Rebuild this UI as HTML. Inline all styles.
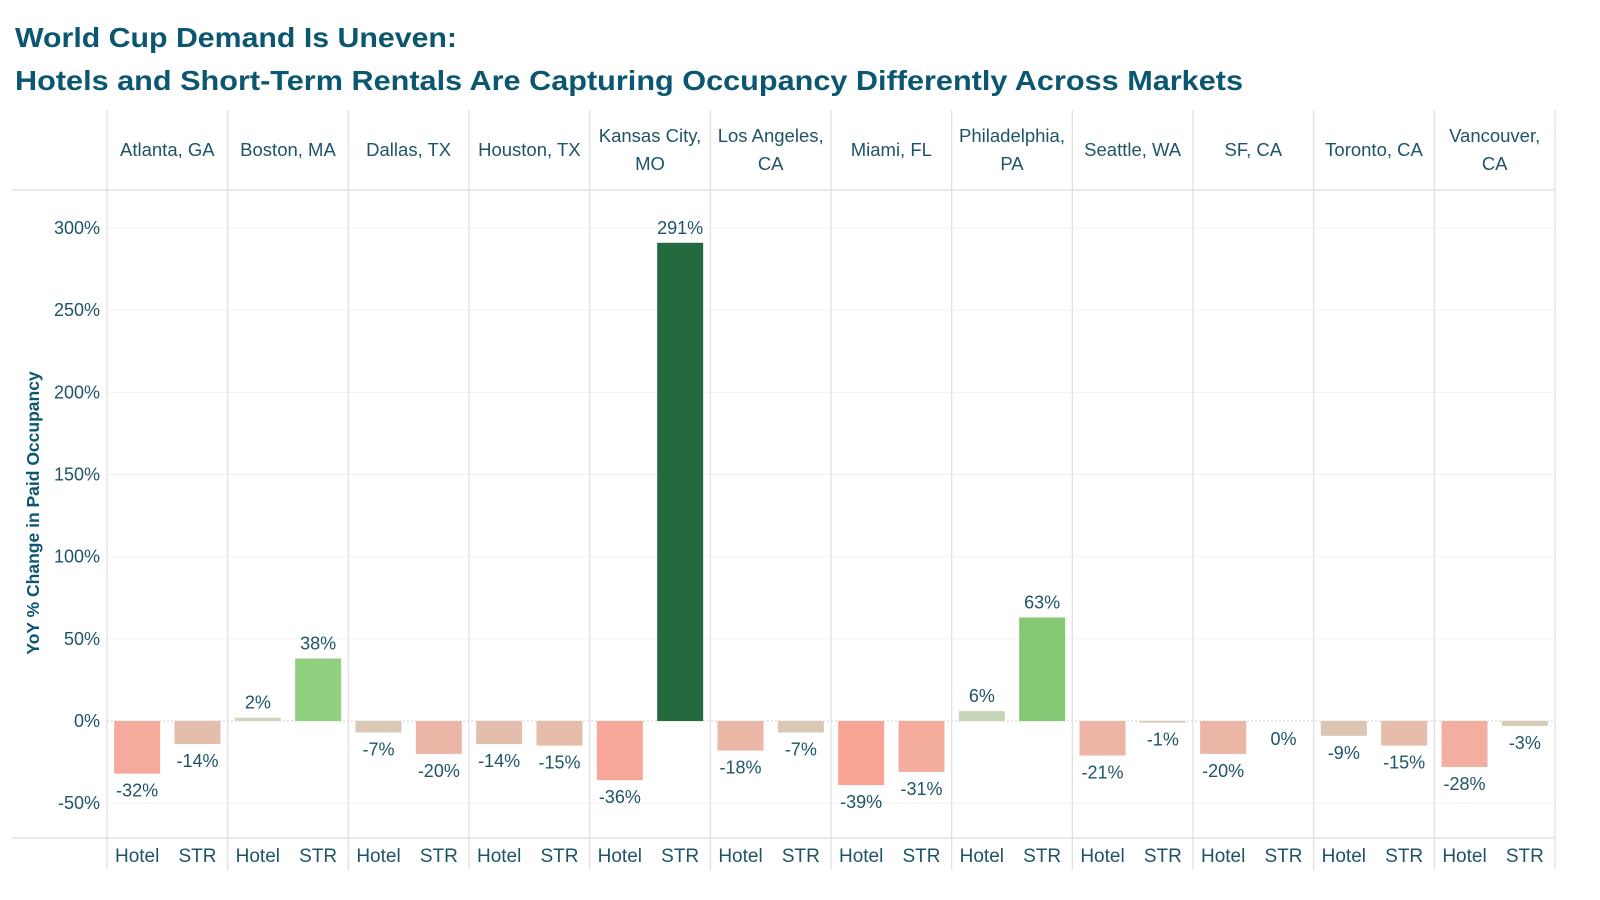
<!DOCTYPE html>
<html><head><meta charset="utf-8">
<style>
html,body{margin:0;padding:0;background:#fff;}
svg{display:block;font-family:"Liberation Sans",sans-serif;}
</style></head>
<body>
<svg id="chart" width="1600" height="900" viewBox="0 0 1600 900" xmlns="http://www.w3.org/2000/svg">
<text x="15" y="47" font-size="28" font-weight="bold" fill="#0b5670" textLength="442" lengthAdjust="spacingAndGlyphs">World Cup Demand Is Uneven:</text>
<text x="15" y="90" font-size="28" font-weight="bold" fill="#0b5670" textLength="1228" lengthAdjust="spacingAndGlyphs">Hotels and Short-Term Rentals Are Capturing Occupancy Differently Across Markets</text>
<text transform="translate(39,513) rotate(-90)" text-anchor="middle" font-size="17.5" font-weight="bold" fill="#0b5670">YoY % Change in Paid Occupancy</text>
<g id="grid"></g>
<g id="marks"></g>
</svg>
<script>
const markets = ["Atlanta, GA","Boston, MA","Dallas, TX","Houston, TX","Kansas City, MO","Los Angeles, CA","Miami, FL","Philadelphia, PA","Seattle, WA","SF, CA","Toronto, CA","Vancouver, CA"];
const marketLines = [["Atlanta, GA"],["Boston, MA"],["Dallas, TX"],["Houston, TX"],["Kansas City,","MO"],["Los Angeles,","CA"],["Miami, FL"],["Philadelphia,","PA"],["Seattle, WA"],["SF, CA"],["Toronto, CA"],["Vancouver,","CA"]];
const hotelValues = [-32,2,-7,-14,-36,-18,-39,6,-21,-20,-9,-28];
const strValues = [-14,38,-20,-15,291,-7,-31,63,-1,0,-15,-3];
const yTicks = [-50,0,50,100,150,200,250,300];
const segments = ["Hotel","STR"];

const NS="http://www.w3.org/2000/svg";
const plotLeft=107, plotRight=1555, plotTop=190, plotBottom=838;
const pw=(plotRight-plotLeft)/markets.length;
const y0=721, perUnit=(721-228)/300;
function yScale(v){return y0 - v*perUnit;}
function xPanel(i){return plotLeft + i*pw;}
function el(tag,attrs,parent){const e=document.createElementNS(NS,tag);for(const k in attrs)e.setAttribute(k,attrs[k]);parent.appendChild(e);return e;}
function lerp(a,b,t){return a.map((x,i)=>Math.round(x+(b[i]-x)*t));}
function color(v){
  const neg=[[0,[216,204,186]],[-7,[217,200,180]],[-18,[235,184,168]],[-40,[250,164,148]]];
  const pos=[[0,[205,216,190]],[6,[197,214,184]],[40,[142,208,122]],[63,[133,200,115]],[291,[37,106,62]]];
  const st=v<0?neg:pos; const a=Math.abs(v);
  for(let i=0;i<st.length-1;i++){const p=Math.abs(st[i][0]),q=Math.abs(st[i+1][0]);
    if(a<=q){const c=lerp(st[i][1],st[i+1][1],(a-p)/((q-p)||1));return 'rgb('+c.join(',')+')';}}
  return 'rgb('+st[st.length-1][1].join(',')+')';
}
const grid=document.getElementById('grid'), marks=document.getElementById('marks');
const tc="#1e5466";
yTicks.forEach(t=>{
  const y=yScale(t);
  if(t!==0){const g=el('line',{x1:plotLeft,x2:plotRight,y1:y,y2:y,stroke:'#f1f1f1','stroke-width':1},grid);
  
  }
  const tx=el('text',{x:100,y:y+6,'text-anchor':'end','font-size':18,fill:tc},grid);
  tx.textContent=t+'%';
  
  
});
const zl=el('line',{x1:plotLeft,x2:plotRight,y1:y0,y2:y0,stroke:'#cfcfcf','stroke-width':1,'stroke-dasharray':'2,2'},grid);


[plotTop,plotBottom].forEach(y=>{const l=el('line',{x1:12,x2:plotRight,y1:y,y2:y,stroke:'#dcdcdc','stroke-width':1.2},grid);
  
  });
for(let i=0;i<=markets.length;i++){
  const x=xPanel(i);
  const l=el('line',{x1:x,x2:x,y1:110,y2:870,stroke:'#dedede','stroke-width':1.2},grid);
  
  
}
markets.forEach((m,i)=>{
  const cx=xPanel(i)+pw/2;
  const lines=marketLines[i];
  lines.forEach((ln,k)=>{
    const yy = lines.length===1 ? 156 : 142+k*28;
    const t=el('text',{x:cx,y:yy,'text-anchor':'middle','font-size':18.5,fill:tc},marks);
    t.textContent=ln;
    
    
  });
  [hotelValues[i],strValues[i]].forEach((v,j)=>{
    const bx=xPanel(i)+(pw/2)*(j+0.5)-23;
    const yv=yScale(v);
    const r=el('rect',{x:bx,y:Math.min(yv,y0),width:46,height:Math.max(Math.abs(yv-y0),v===0?0:1),fill:color(v)},marks);
    
    
    const ly = v<0 ? yv+23 : (v===0? y0+24 : yv-9);
    const lt=el('text',{x:bx+23,y:ly,'text-anchor':'middle','font-size':18,fill:tc},marks);
    lt.textContent=v+'%';
    
    
    const st=el('text',{x:bx+23,y:862,'text-anchor':'middle','font-size':19,fill:tc},marks);
    st.textContent=segments[j];
    
    
  });
});
</script>
</body></html>
